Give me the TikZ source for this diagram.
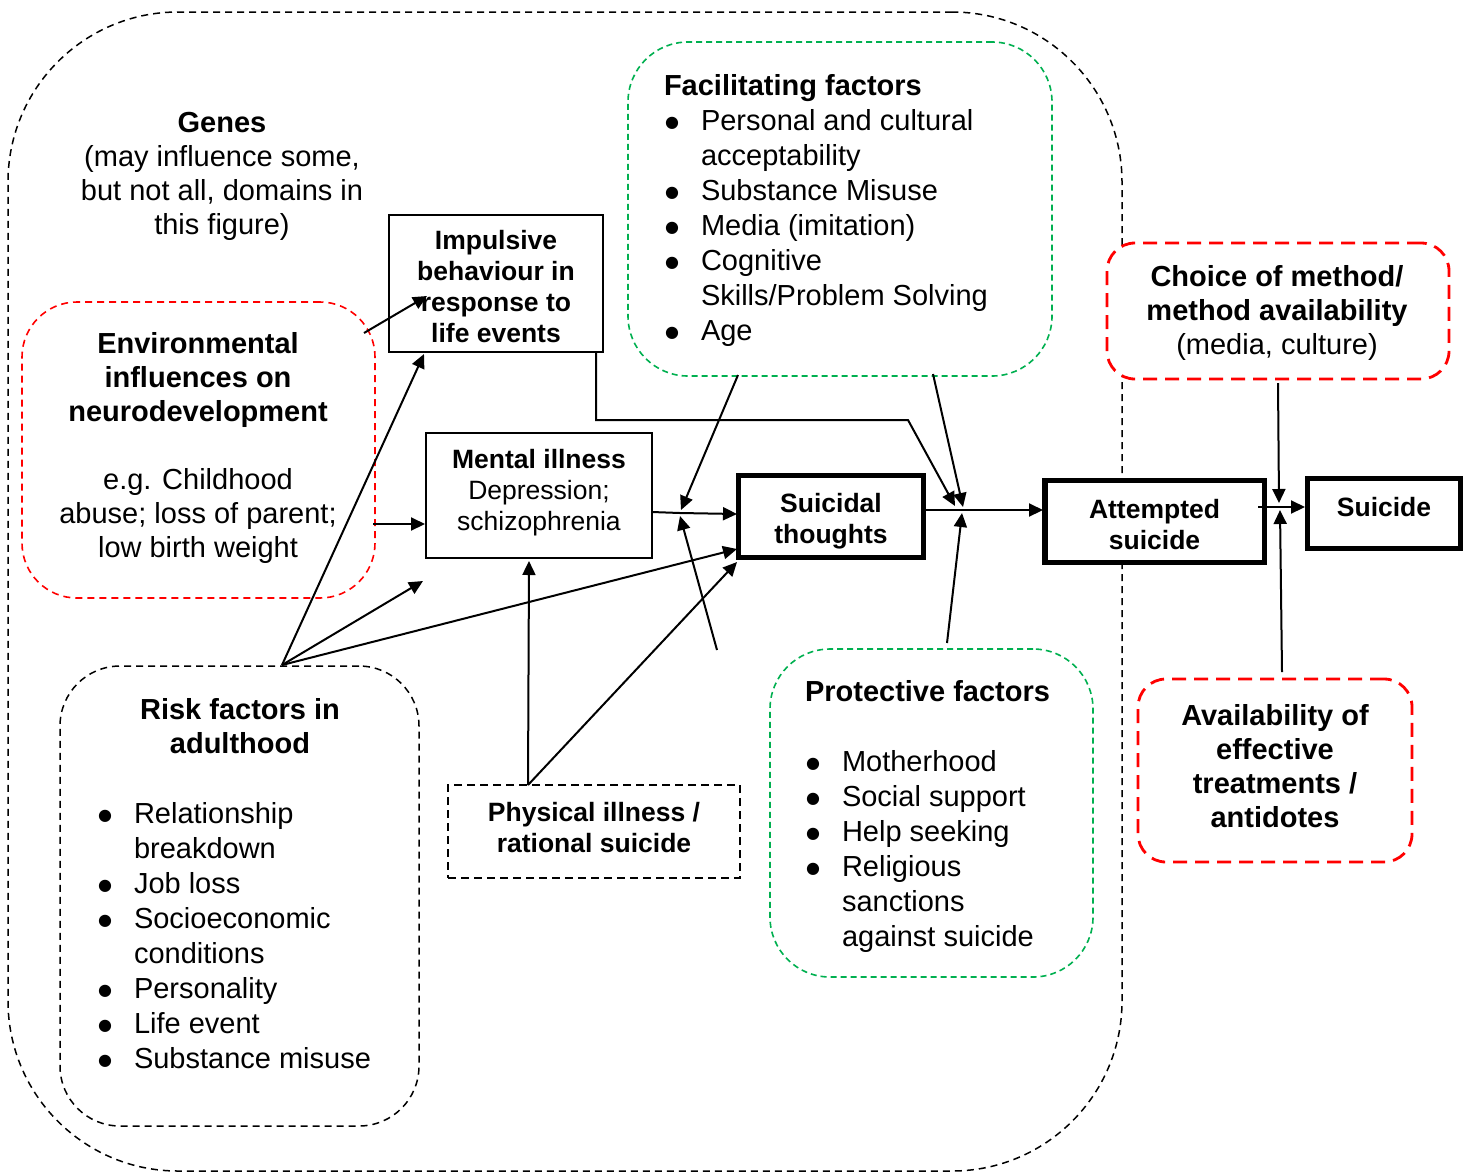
\documentclass[tikz,border=0pt]{standalone}
\usepackage{fontspec}
\setmainfont{Liberation Sans}
\newfontfamily\symf{DejaVu Sans}
\usetikzlibrary{arrows.meta}
\definecolor{grn}{RGB}{0,176,80}
\newcommand{\bigf}{\fontsize{29}{34}\selectfont}
\newcommand{\listf}{\fontsize{29}{35}\selectfont}
\newcommand{\smallf}{\fontsize{26.5}{31}\selectfont}
\newcommand{\bul}{\makebox[37pt][l]{\hspace{1pt}\raisebox{3pt}{\symf\fontsize{16}{16}\selectfont ●}}}
\newcommand{\ct}[1]{\begin{tabular}{@{}c@{}}#1\end{tabular}}
\begin{document}
\begin{tikzpicture}[x=1pt,y=-1pt,
  txt/.style={inner sep=0pt, outer sep=0pt},
  arr/.style={line width=2pt, -{Triangle[length=14pt,width=13pt]}},
  outerbox/.style={draw, dash pattern=on 7pt off 5pt, line width=1.5pt, rounded corners=170pt, inner sep=0pt},
  grnbox/.style={draw=grn, fill=white, dash pattern=on 6pt off 4pt, line width=1.6pt, rounded corners=60pt, inner sep=0pt},
  redbox/.style={draw=red, fill=white, dash pattern=on 7pt off 5pt, line width=1.6pt, rounded corners=55pt, inner sep=0pt},
  redthick/.style={draw=red, fill=white, dash pattern=on 14pt off 8pt, line width=2.8pt, rounded corners=28pt, inner sep=0pt},
  blkbox/.style={draw, fill=white, dash pattern=on 7pt off 5pt, line width=1.5pt, rounded corners=60pt, inner sep=0pt},
  physbox/.style={draw, fill=white, dash pattern=on 8pt off 5pt, line width=1.8pt, inner sep=0pt},
  thinbox/.style={draw, fill=white, line width=2pt, inner sep=0pt},
  thickbox/.style={draw, fill=white, line width=5.5pt, inner sep=0pt}
]
\useasboundingbox (0,0) rectangle (1471,1173);
\fill[white] (0,0) rectangle (1471,1173);

% outer region
\node[outerbox, minimum width=1114pt, minimum height=1159pt] (outer) at (565,591.5) {};

% genes
\node[txt, font=\bigf] (genes) at (222,176.5) {\ct{\textbf{Genes}\\(may influence some,\\but not all, domains in\\this figure)}};

% facilitating factors
\node[grnbox, minimum width=424pt, minimum height=334pt] (fac) at (840,209) {};
\node[txt, font=\listf, anchor=north west] (fact) at (664,71) {\begin{tabular}{@{}l@{}l@{}}
\multicolumn{2}{@{}l@{}}{\textbf{Facilitating factors}}\\
\bul & Personal and cultural\\
 & acceptability\\
\bul & Substance Misuse\\
\bul & Media (imitation)\\
\bul & Cognitive\\
 & Skills/Problem Solving\\
\bul & Age
\end{tabular}};

% impulsive
\node[thinbox, minimum width=214pt, minimum height=137pt] (imp) at (496,283.5) {};
\node[txt, font=\smallf] (impt) at (496,290) {\ct{\textbf{Impulsive}\\\textbf{behaviour in}\\\textbf{response to}\\\textbf{life events}}};

% environmental
\node[redbox, minimum width=353pt, minimum height=296pt] (env) at (198.5,450) {};
\node[txt, font=\bigf] (envt) at (198,448.5) {\ct{\textbf{Environmental}\\\textbf{influences on}\\\textbf{neurodevelopment}\\ \\e.g. Childhood\\abuse; loss of parent;\\low birth weight}};

% mental illness
\node[thinbox, minimum width=226pt, minimum height=125pt] (men) at (539,495.5) {};
\node[txt, font=\smallf] (ment) at (539,493) {\ct{\textbf{Mental illness}\\Depression;\\schizophrenia}};

% suicidal thoughts
\node[thickbox, minimum width=185pt, minimum height=82pt] (st) at (831,516.5) {};
\node[txt, font=\smallf] (stt) at (831,522) {\ct{\textbf{Suicidal}\\\textbf{thoughts}}};

% attempted suicide
\node[thickbox, minimum width=219.5pt, minimum height=82pt] (att) at (1154.75,521.5) {};
\node[txt, font=\smallf] (attt) at (1154.5,527.5) {\ct{\textbf{Attempted}\\\textbf{suicide}}};

% suicide
\node[thickbox, minimum width=153pt, minimum height=70pt] (sui) at (1384,513.5) {};
\node[txt, font=\smallf] (suit) at (1384,510.5) {\ct{\textbf{Suicide}}};

% choice of method
\node[redthick, minimum width=342pt, minimum height=136pt] (cho) at (1278,311) {};
\node[txt, font=\bigf] (chot) at (1277,314) {\ct{\textbf{Choice of method/}\\\textbf{method availability}\\(media, culture)}};

% availability
\node[redthick, minimum width=274pt, minimum height=183pt] (ava) at (1275,770.5) {};
\node[txt, font=\bigf] (avat) at (1275,769.5) {\ct{\textbf{Availability of}\\\textbf{effective}\\\textbf{treatments /}\\\textbf{antidotes}}};

% protective
\node[grnbox, minimum width=323pt, minimum height=328pt] (pro) at (931.5,813) {};
\node[txt, font=\listf, anchor=north west] (prot) at (805,677) {\begin{tabular}{@{}l@{}l@{}}
\multicolumn{2}{@{}l@{}}{\textbf{Protective factors}}\\
 & \\
\bul & Motherhood\\
\bul & Social support\\
\bul & Help seeking\\
\bul & Religious\\
 & sanctions\\
 & against suicide
\end{tabular}};

% risk factors
\node[blkbox, minimum width=359pt, minimum height=460pt] (risk) at (239.5,896) {};
\node[txt, font=\bigf] (riskt) at (240,729.5) {\ct{\textbf{Risk factors in}\\\textbf{adulthood}}};
\node[txt, font=\listf, anchor=north west] (riskl) at (97,799) {\begin{tabular}{@{}l@{}l@{}}
\bul & Relationship\\
 & breakdown\\
\bul & Job loss\\
\bul & Socioeconomic\\
 & conditions\\
\bul & Personality\\
\bul & Life event\\
\bul & Substance misuse
\end{tabular}};

% physical illness
\node[physbox, minimum width=292pt, minimum height=93pt] (phy) at (594,831.5) {};
\node[txt, font=\smallf] (phyt) at (594,830.5) {\ct{\textbf{Physical illness /}\\\textbf{rational suicide}}};

% junctions and connector end points
\coordinate (j1) at (680,513);
\coordinate (j2) at (962,510);
\coordinate (j3) at (1280,507);
\coordinate (rfs) at (282,665);
\coordinate (envA) at (364,333);
\coordinate (impA) at (427,296);
\coordinate (impB) at (424,354);
\coordinate (freeC) at (423,581);
\coordinate (stD) at (737,549);
\coordinate (envE) at (373,524);
\coordinate (menE) at (425,524);
\coordinate (menF) at (652,512);
\coordinate (stF) at (737,514);
\coordinate (facG) at (738,375);
\coordinate (j1g) at (681,510);
\coordinate (freeH) at (717,650);
\coordinate (j1h) at (680,516);
\coordinate (phyI) at (528,785);
\coordinate (menI) at (529,561);
\coordinate (stJ) at (737,562);
\coordinate (impK) at (596,352);
\coordinate (bendK1) at (596,420);
\coordinate (bendK2) at (908,420);
\coordinate (j2k) at (955,506);
\coordinate (facL) at (933,374);
\coordinate (j2l) at (963,507);
\coordinate (stM) at (924,510);
\coordinate (attM) at (1043,510);
\coordinate (freeN) at (947,643);
\coordinate (j2n) at (962,513);
\coordinate (attO) at (1258,507);
\coordinate (suiO) at (1305,507);
\coordinate (choP) at (1278,383);
\coordinate (j3p) at (1279,503);
\coordinate (avaQ) at (1282,672);
\coordinate (j3q) at (1280,510);

% connectors
\draw[arr] (envA) -- (impA);
\draw[arr] (rfs) -- (impB);
\draw[arr] (rfs) -- (freeC);
\draw[arr] (rfs) -- (stD);
\draw[arr] (envE) -- (menE);
\draw[arr] (menF) -- (j1) -- (stF);
\draw[arr] (facG) -- (j1g);
\draw[arr] (freeH) -- (j1h);
\draw[arr] (phyI) -- (menI);
\draw[arr] (phyI) -- (stJ);
\draw[arr] (impK) -- (bendK1) -- (bendK2) -- (j2k);
\draw[arr] (facL) -- (j2l);
\draw[arr] (stM) -- (attM);
\draw[arr] (freeN) -- (j2n);
\draw[arr] (attO) -- (suiO);
\draw[arr] (choP) -- (j3p);
\draw[arr] (avaQ) -- (j3q);
\end{tikzpicture}
\end{document}
